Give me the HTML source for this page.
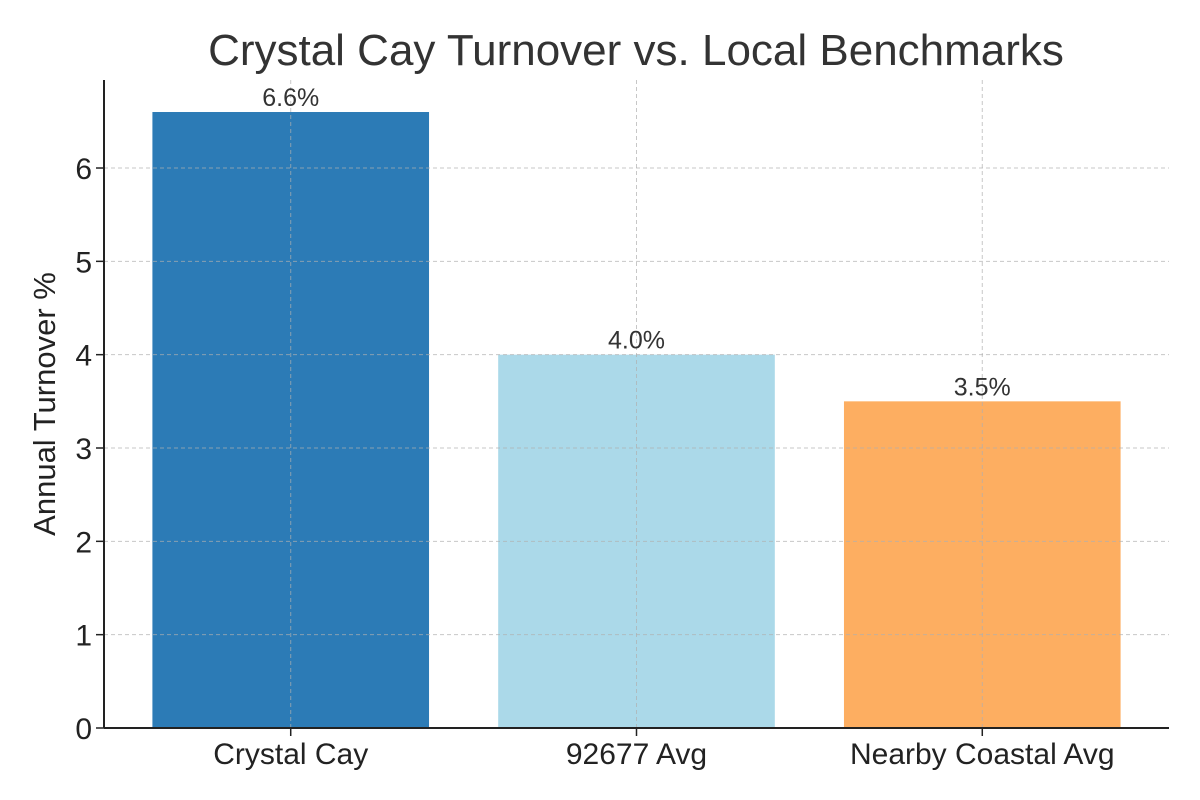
<!DOCTYPE html>
<html>
<head>
<meta charset="utf-8">
<style>
  html, body { margin: 0; padding: 0; background: #fff; }
  svg { display: block; font-family: "Liberation Sans", "DejaVu Sans", sans-serif; }
</style>
</head>
<body>
<svg id="chart" width="1200" height="800" viewBox="0 0 1200 800" xmlns="http://www.w3.org/2000/svg">
  <text x="636" y="65" text-anchor="middle" font-size="44" fill="#333">Crystal Cay Turnover vs. Local Benchmarks</text>
  <text transform="translate(55,404) rotate(-90)" text-anchor="middle" font-size="31" fill="#222">Annual Turnover %</text>
  <g id="bars"></g>
  <g id="grid"></g>
  <g id="labels"></g>
  <g id="axes"></g>
</svg>
<script>
const categories = ["Crystal Cay", "92677 Avg", "Nearby Coastal Avg"];
const values = [6.6, 4.0, 3.5];
const valueLabels = ["6.6%", "4.0%", "3.5%"];
const yTicks = [0, 1, 2, 3, 4, 5, 6];
const colors = ["#2c7bb6", "#abd9e9", "#fdae61"];

const NS = "http://www.w3.org/2000/svg";
const plotLeft = 104, plotRight = 1169, plotTop = 80, plotBottom = 728;
const xMin = -0.54, xMax = 2.54;
const yMin = 0, yMax = 6.943;
function xScale(i) { return plotLeft + (i - xMin) / (xMax - xMin) * (plotRight - plotLeft); }
function yScale(v) { return plotBottom - (v - yMin) / (yMax - yMin) * (plotBottom - plotTop); }
const bw = 0.8 * (xScale(1) - xScale(0));
function mk(tag, attrs, parent) {
  const e = document.createElementNS(NS, tag);
  for (const k in attrs) e.setAttribute(k, attrs[k]);
  parent.appendChild(e);
  return e;
}
const bars = document.getElementById("bars");
const grid = document.getElementById("grid");
const labels = document.getElementById("labels");
const axes = document.getElementById("axes");

categories.forEach((c, i) => {
  const cx = xScale(i);
  const r = mk("rect", {x: cx - bw / 2, y: yScale(values[i]), width: bw, height: yScale(0) - yScale(values[i]), fill: colors[i]}, bars);
  
  
  const t = mk("text", {x: cx, y: yScale(values[i]) - 6, "text-anchor": "middle", "font-size": "25", fill: "#333"}, labels);
  t.textContent = valueLabels[i];
  
  
  const g = mk("line", {x1: cx, x2: cx, y1: plotTop, y2: plotBottom, stroke: "#b0b0b0", "stroke-width": "1", "stroke-dasharray": "4,3", opacity: "0.7"}, grid);
  
  
  const tk = mk("line", {x1: cx, x2: cx, y1: plotBottom, y2: plotBottom + 8, stroke: "#222", "stroke-width": "1.5"}, axes);
  
  
  const tl = mk("text", {x: cx, y: plotBottom + 36, "text-anchor": "middle", "font-size": "30", fill: "#222"}, axes);
  tl.textContent = c;
  
  
});

yTicks.forEach(v => {
  const y = yScale(v);
  if (v > 0) {
    const g = mk("line", {x1: plotLeft, x2: plotRight, y1: y, y2: y, stroke: "#b0b0b0", "stroke-width": "1", "stroke-dasharray": "4,3", opacity: "0.7"}, grid);
    
    
  }
  const tk = mk("line", {x1: plotLeft - 8, x2: plotLeft, y1: y, y2: y, stroke: "#222", "stroke-width": "1.5"}, axes);
  
  
  const tl = mk("text", {x: plotLeft - 12, y: y + 11, "text-anchor": "end", "font-size": "30", fill: "#222"}, axes);
  tl.textContent = v;
  
  
});

const ls = mk("line", {x1: plotLeft, x2: plotLeft, y1: plotTop, y2: plotBottom, stroke: "#222", "stroke-width": "2"}, axes);


const bs = mk("line", {x1: plotLeft, x2: plotRight, y1: plotBottom, y2: plotBottom, stroke: "#222", "stroke-width": "2"}, axes);


</script>
</body>
</html>
